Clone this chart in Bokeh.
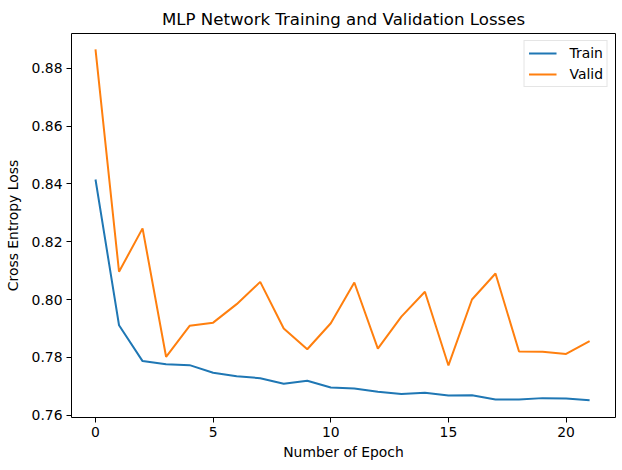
from bokeh.plotting import figure
from bokeh.models import FixedTicker, NumeralTickFormatter, Range1d, Legend, LegendItem
from bokeh.embed import file_html
from bokeh.resources import INLINE

epochs = list(range(22))
train_loss = [0.8415, 0.7911, 0.7787, 0.7776, 0.7773, 0.7747, 0.7735, 0.7728, 0.7709, 0.7719,
              0.7696, 0.7692, 0.7681, 0.7673, 0.7678, 0.7668, 0.7669, 0.7654, 0.7654, 0.7659,
              0.7658, 0.7652]
valid_loss = [0.8865, 0.8096, 0.8246, 0.7802, 0.7909, 0.7920, 0.7984, 0.8061, 0.7900, 0.7828,
              0.7918, 0.8059, 0.7830, 0.7941, 0.8027, 0.7772, 0.8000, 0.8090, 0.7820, 0.7819,
              0.7812, 0.7856]
x_ticks = [0, 5, 10, 15, 20]
y_ticks = [0.76, 0.78, 0.80, 0.82, 0.84, 0.86, 0.88]

FONT = "DejaVu Sans"

p = figure(frame_width=544, frame_height=384, output_backend="svg", toolbar_location=None,
           x_range=Range1d(-1.02, 22.1), y_range=Range1d(0.7592, 0.8920),
           min_border_left=71, min_border_right=7, min_border_top=33, min_border_bottom=53)
p.title.text = "MLP Network Training and Validation Losses"
p.title.align = "center"
p.title.text_font = FONT
p.title.text_font_size = "16.6px"
p.title.text_font_style = "normal"
p.title.text_color = "black"
p.title.standoff = 9

p.grid.visible = False
p.outline_line_color = "black"
p.outline_line_width = 1
p.outline_line_alpha = 1

for ax in (p.xaxis[0], p.yaxis[0]):
    ax.axis_line_color = None
    ax.major_tick_line_color = "black"
    ax.major_tick_out = 5
    ax.major_tick_in = 0
    ax.minor_tick_line_color = None
    ax.major_label_text_font = FONT
    ax.major_label_text_font_size = "13.9px"
    ax.major_label_text_color = "black"
    ax.axis_label_text_font = FONT
    ax.axis_label_text_font_size = "13.9px"
    ax.axis_label_text_font_style = "normal"
    ax.axis_label_text_color = "black"

p.xaxis.ticker = FixedTicker(ticks=x_ticks)
p.yaxis.ticker = FixedTicker(ticks=y_ticks)
p.yaxis.formatter = NumeralTickFormatter(format="0.00")
p.xaxis.axis_label = "Number of Epoch"
p.yaxis.axis_label = "Cross Entropy Loss"
p.xaxis.major_label_standoff = 4
p.yaxis.major_label_standoff = 4
p.xaxis.axis_label_standoff = 4
p.yaxis.axis_label_standoff = 8

r1 = p.line(epochs, train_loss, line_color="#1f77b4", line_width=2)
r2 = p.line(epochs, valid_loss, line_color="#ff7f0e", line_width=2)

legend = Legend(items=[LegendItem(label="Train", renderers=[r1]),
                       LegendItem(label="Valid", renderers=[r2])],
                location="top_right")
legend.label_text_font = FONT
legend.label_text_font_size = "13.9px"
legend.label_text_color = "black"
legend.glyph_width = 28
legend.glyph_height = 16
legend.label_standoff = 13
legend.spacing = 5
legend.padding = 4
legend.margin = 7
legend.border_line_color = "#cccccc"
legend.border_line_width = 1
legend.background_fill_alpha = 0.8
p.add_layout(legend)

open("out.html", "w").write(file_html(p, INLINE))
